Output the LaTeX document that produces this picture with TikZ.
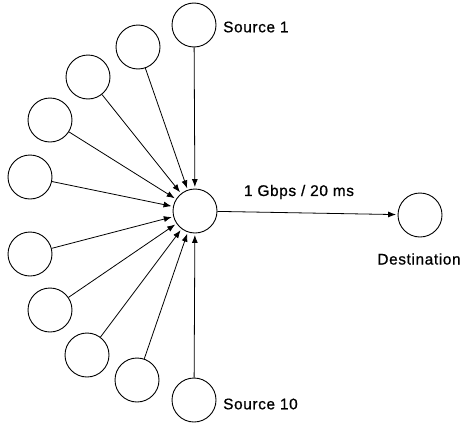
\documentclass[tikz,border=0pt]{standalone}
\usepackage{fontspec}
\setmainfont[LetterSpace=4,FakeBold=0.8]{Liberation Sans}
\usetikzlibrary{arrows.meta}
\begin{document}
\begin{tikzpicture}[x=1pt,y=-1pt,
  host/.style={circle,draw,line width=0.9pt,minimum size=44pt,inner sep=0pt},
  lbl/.style={font=\fontsize{15.4}{18}\selectfont,inner sep=0pt},
  link/.style={line width=0.8pt,-{Latex[length=8pt,width=6pt]},shorten >=1.5pt}]
\useasboundingbox (0,0) rectangle (462,423);
\node[host] (r) at (195,211) {};
\node[host] (d) at (420,215) {};
\node[host] (s1) at (194,25) {};
\node[host] (s2) at (138,47) {};
\node[host] (s3) at (88,77) {};
\node[host] (s4) at (50,120) {};
\node[host] (s5) at (30,177) {};
\node[host] (s6) at (30,254) {};
\node[host] (s7) at (50,310) {};
\node[host] (s8) at (87,355) {};
\node[host] (s9) at (137,380) {};
\node[host] (s10) at (194,400) {};
\node[lbl,anchor=west] (l1) at (223,27) {Source 1};
\node[lbl,anchor=west] (l10) at (223,404) {Source 10};
\node[lbl] (ld) at (419,259) {Destination};
\foreach \i in {1,...,10} { \draw[link] (s\i) -- (r); }
\draw[link] (r) -- (d);
\node[lbl] (lr) at (299,192) {1 Gbps / 20 ms};
\end{tikzpicture}
\end{document}
